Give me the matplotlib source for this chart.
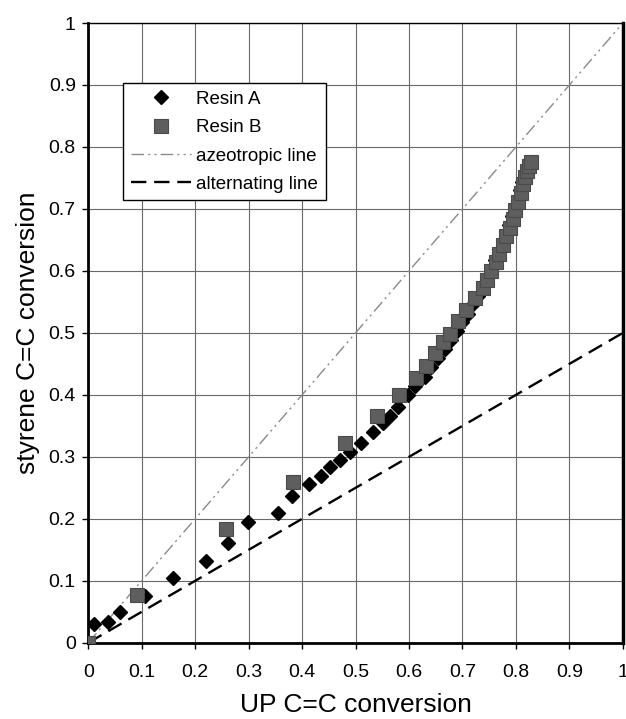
import matplotlib
matplotlib.use("Agg")
import matplotlib.pyplot as plt

plt.rcParams['font.family'] = ['Liberation Sans', 'DejaVu Sans']

# Resin A (diamonds)
resin_a_x = [0.0, 0.01, 0.036, 0.059, 0.107, 0.159, 0.22, 0.262, 0.299, 0.354, 0.381,
             0.4125, 0.436, 0.452, 0.47, 0.489, 0.511, 0.533, 0.551, 0.565, 0.58, 0.598,
             0.612, 0.629, 0.642, 0.655, 0.667, 0.679, 0.69, 0.70, 0.71, 0.72, 0.729,
             0.738, 0.746, 0.754, 0.761, 0.768, 0.775, 0.781, 0.787, 0.793, 0.798,
             0.803, 0.808, 0.812, 0.816, 0.82]
resin_a_y = [0.0, 0.03, 0.034, 0.05, 0.075, 0.104, 0.132, 0.161, 0.195, 0.21, 0.237,
             0.256, 0.269, 0.284, 0.295, 0.308, 0.322, 0.34, 0.354, 0.366, 0.38, 0.40,
             0.414, 0.429, 0.445, 0.46, 0.474, 0.488, 0.503, 0.517, 0.531, 0.546, 0.56,
             0.575, 0.589, 0.603, 0.617, 0.631, 0.645, 0.66, 0.674, 0.688, 0.702,
             0.716, 0.73, 0.744, 0.756, 0.767]

# Resin B (squares)
resin_b_x = [0.0, 0.092, 0.257, 0.383, 0.48, 0.54, 0.581, 0.6125, 0.631, 0.648, 0.664,
             0.676, 0.692, 0.707, 0.723, 0.738, 0.746, 0.754, 0.762, 0.769, 0.776,
             0.782, 0.788, 0.794, 0.799, 0.804, 0.809, 0.813, 0.817, 0.821, 0.825, 0.829]
resin_b_y = [0.0, 0.077, 0.183, 0.26, 0.323, 0.366, 0.40, 0.427, 0.446, 0.468, 0.485,
             0.499, 0.52, 0.537, 0.556, 0.572, 0.586, 0.60, 0.614, 0.628, 0.642,
             0.656, 0.67, 0.684, 0.698, 0.712, 0.726, 0.74, 0.752, 0.762, 0.770, 0.775]

# Reference lines
azeo_x = [0.0, 1.0]
azeo_y = [0.0, 1.0]
alt_x = [0.0, 1.0]
alt_y = [0.0, 0.5]

ticks = [0.0, 0.1, 0.2, 0.3, 0.4, 0.5, 0.6, 0.7, 0.8, 0.9, 1.0]
tick_labels = ["0", "0.1", "0.2", "0.3", "0.4", "0.5", "0.6", "0.7", "0.8", "0.9", "1"]

fig = plt.figure(figsize=(6.26, 7.19), dpi=100)
ax = fig.add_axes([0.141, 0.106, 0.854, 0.862])

ax.set_xlim(0, 1)
ax.set_ylim(0, 1)
ax.set_xticks(ticks)
ax.set_xticklabels(tick_labels)
ax.set_yticks(ticks)
ax.set_yticklabels(tick_labels)
ax.grid(True, color='#6a6a6a', linewidth=0.8)
ax.set_axisbelow(True)

ax.plot(resin_a_x, resin_a_y, linestyle='none', marker='D', markersize=7,
        color='black', markeredgecolor='black', label='Resin A', zorder=3)
ax.plot(resin_b_x, resin_b_y, linestyle='none', marker='s', markersize=9.5,
        color='#5e5e5e', markeredgecolor='#4a4a4a', markeredgewidth=0.8,
        label='Resin B', zorder=4)
ax.plot(azeo_x, azeo_y, color='#8a8a8a', linewidth=1.0,
        dashes=[9, 3, 1.5, 3, 1.5, 3], label='azeotropic line', zorder=2)
ax.plot(alt_x, alt_y, color='black', linewidth=1.7, dashes=[6.5, 3.3],
        label='alternating line', zorder=2)

for s in ['left', 'bottom']:
    ax.spines[s].set_linewidth(2.0)
ax.spines['right'].set_linewidth(2.5)
ax.spines['top'].set_linewidth(1.0)
for s in ax.spines.values():
    s.set_color('black')

ax.tick_params(axis='both', direction='out', length=4, width=1, labelsize=14,
               colors='black')
ax.tick_params(axis='x', pad=11)
ax.tick_params(axis='y', pad=5)

ax.set_xlabel('UP C=C conversion', fontsize=19, labelpad=9)
ax.set_ylabel('styrene C=C conversion', fontsize=19, labelpad=6)

leg = ax.legend(loc='upper left', bbox_to_anchor=(0.065, 0.903), fontsize=13.5,
                frameon=True, fancybox=False, edgecolor='black', framealpha=1,
                borderpad=0.4, labelspacing=0.6, handlelength=3.2,
                handletextpad=0.3, borderaxespad=0)
leg.get_frame().set_linewidth(1.0)

fig.savefig('out.png', dpi=100)
